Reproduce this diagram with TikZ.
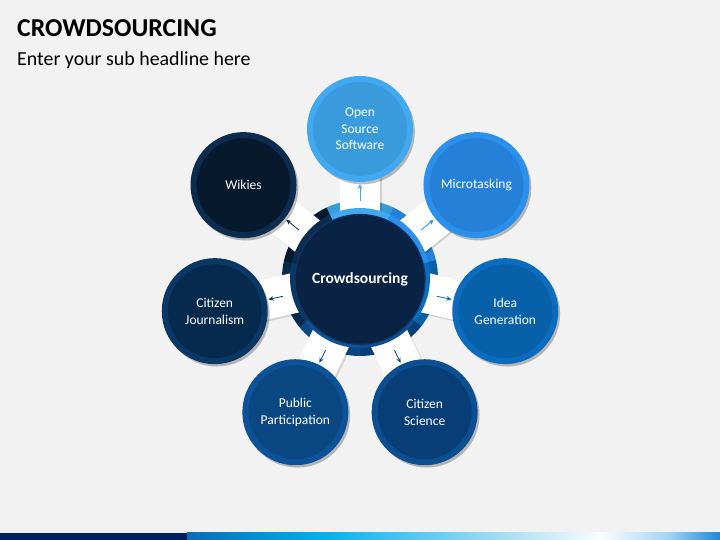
\documentclass[tikz,border=0pt]{standalone}
\usepackage{fontspec}
\setmainfont{Carlito}
\usetikzlibrary{calc,shadows,arrows.meta}
\definecolor{bg}{HTML}{F2F2F2}
\definecolor{cf0}{HTML}{3A9BDC}\definecolor{cr0}{HTML}{41A9F2}
\definecolor{cf1}{HTML}{2580D8}\definecolor{cr1}{HTML}{2B8FEC}
\definecolor{cf2}{HTML}{0860A8}\definecolor{cr2}{HTML}{0B6BBE}
\definecolor{cf3}{HTML}{083D76}\definecolor{cr3}{HTML}{0B4E91}
\definecolor{cf4}{HTML}{0A4681}\definecolor{cr4}{HTML}{0C5298}
\definecolor{cf5}{HTML}{062A4D}\definecolor{cr5}{HTML}{0A3866}
\definecolor{cf6}{HTML}{06192D}\definecolor{cr6}{HTML}{0B2B4F}
\definecolor{hubfill}{HTML}{0A2244}
\definecolor{hubline}{HTML}{123463}
\definecolor{navy}{HTML}{002060}
\definecolor{g1}{HTML}{0A6BB8}
\definecolor{g2}{HTML}{00B0F0}
\definecolor{g3}{HTML}{A8DEF4}
\definecolor{g4}{HTML}{FAFDFF}
\definecolor{g5}{HTML}{9FD3F3}
\definecolor{g6}{HTML}{1E88D8}
\tikzset{
  circ/.style={circle, minimum size=100pt, inner sep=0pt, line width=6pt, text=white, align=center,
    font=\fontsize{13.5}{16.5}\selectfont,
    drop shadow={shadow xshift=2pt, shadow yshift=-2.5pt, shadow scale=1.055, opacity=.25, fill=black}},
  bandbox/.style={fill=white, drop shadow={shadow xshift=1.5pt, shadow yshift=-1.5pt, opacity=.14, fill=black}},
  arr/.style={line width=0.8pt, -{Stealth[length=5pt,width=4.5pt]}, shorten <=13pt, shorten >=2pt},
  hubstyle/.style={circle, minimum size=130pt, inner sep=0pt, fill=hubfill, draw=hubline, line width=1.2pt,
    text=white, font=\fontsize{15.5}{18}\selectfont\bfseries}
}
\begin{document}
\begin{tikzpicture}[x=1pt,y=1pt]
\useasboundingbox (0,0) rectangle (720,540);
\fill[bg] (0,0) rectangle (720,540);
% title
\node[anchor=base west, inner sep=0pt, font=\fontsize{25.8}{30}\selectfont\bfseries] (title) at (17,503) {CROWDSOURCING};
\node[anchor=base west, inner sep=0pt, font=\fontsize{19.9}{23}\selectfont] (sub) at (17,474.3) {Enter your sub headline here};
\coordinate (c) at (360,262);
% outer ring sectors
\foreach \i in {0,...,6}{
  \pgfmathsetmacro\a{90-\i*360/7}
  \fill[cf\i] (c) -- ($(c)+(\a-26:78)$) arc[start angle=\a-26, end angle=\a+26, radius=78] -- cycle;
}
% bands
\foreach \i in {0,...,6}{
  \pgfmathsetmacro\a{90-\i*360/7}
  \fill[bandbox] ($(c)+(\a:66)+(\a+90:20)$) -- ($(c)+(\a:149)+(\a+90:20)$) -- ($(c)+(\a:149)+(\a-90:20)$) -- ($(c)+(\a:66)+(\a-90:20)$) -- cycle;
}
% inner ring sectors
\foreach \i in {0,...,6}{
  \pgfmathsetmacro\a{90-\i*360/7}
  \fill[cr\i] (c) -- ($(c)+(\a-26:70)$) arc[start angle=\a-26, end angle=\a+26, radius=70] -- cycle;
}
% hub
\node[hubstyle] (hub) at (360,260.5) {Crowdsourcing};
% outer circles
\foreach \i/\nm/\txt in {0/oss/{Open\\Source\\Software},1/micro/{Microtasking},2/idea/{Idea\\Generation},3/sci/{Citizen\\Science},4/pub/{Public\\Participation},5/jour/{Citizen\\Journalism},6/wik/{Wikies}}{
  \pgfmathsetmacro\a{90-\i*360/7}
  \node[circ, fill=cf\i, draw=cr\i] (\nm) at ($(c)+(\a:149)$) {\txt};
}
% arrows
\foreach \i/\nm in {0/oss,1/micro,2/idea,3/sci,4/pub,5/jour,6/wik}{
  \draw[arr, cr\i] (hub) -- (\nm);
}
% bottom bar
\fill[navy] (0,0) rectangle (187.5,7);
\shade[left color=g1, right color=g2] (187,0) rectangle (320.5,7);
\shade[left color=g2, right color=g3] (320,0) rectangle (505.5,7);
\shade[left color=g3, right color=g4] (505,0) rectangle (601.5,7);
\shade[left color=g4, right color=g5] (601,0) rectangle (670.5,7);
\shade[left color=g5, right color=g6] (670,0) rectangle (720,7);
\end{tikzpicture}
\end{document}
